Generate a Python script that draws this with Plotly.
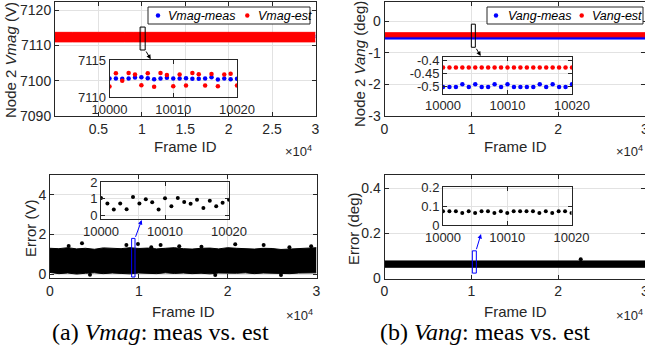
import plotly.graph_objects as go

W, H = 645, 352

# ---------------- data ----------------
band_frames = [0, 1000, 2000, 3000, 4000, 5000, 6000, 7000, 8000, 9000, 10000,
               11000, 12000, 13000, 14000, 15000, 16000, 17000, 18000, 19000, 20000,
               21000, 22000, 23000, 24000, 25000, 26000, 27000, 28000, 29000, 30000]

# Vmag (top-left) dense bands
vmag_est_hi = [7113.7, 7113.6, 7113.7, 7113.7, 7113.6, 7113.7, 7113.7, 7113.6, 7113.7, 7113.7, 7113.7,
               7113.6, 7113.7, 7113.7, 7113.6, 7113.7, 7113.7, 7113.7, 7113.6, 7113.7, 7113.7,
               7113.6, 7113.7, 7113.7, 7113.6, 7113.7, 7113.7, 7113.7, 7113.6, 7113.7, 7113.7]
vmag_est_lo = [7111.0, 7111.1, 7111.0, 7111.0, 7111.1, 7111.0, 7111.0, 7111.1, 7111.0, 7111.0, 7111.0,
               7111.1, 7111.0, 7111.0, 7111.1, 7111.0, 7111.0, 7111.0, 7111.1, 7111.0, 7111.0,
               7111.1, 7111.0, 7111.0, 7111.1, 7111.0, 7111.0, 7111.0, 7111.1, 7111.0, 7111.0]
vmag_meas_hi = [7112.9, 7112.9, 7112.9, 7112.9, 7112.9, 7112.9, 7112.9, 7112.9, 7112.9, 7112.9, 7112.9,
                7112.9, 7112.9, 7112.9, 7112.9, 7112.9, 7112.9, 7112.9, 7112.9, 7112.9, 7112.9,
                7112.9, 7112.9, 7112.9, 7112.9, 7112.9, 7112.9, 7112.9, 7112.9, 7112.9, 7112.9]
vmag_meas_lo = [7112.2, 7112.2, 7112.2, 7112.2, 7112.2, 7112.2, 7112.2, 7112.2, 7112.2, 7112.2, 7112.2,
                7112.2, 7112.2, 7112.2, 7112.2, 7112.2, 7112.2, 7112.2, 7112.2, 7112.2, 7112.2,
                7112.2, 7112.2, 7112.2, 7112.2, 7112.2, 7112.2, 7112.2, 7112.2, 7112.2, 7112.2]

# Vang (top-right) dense bands
vang_est_hi = [-0.37, -0.37, -0.37, -0.37, -0.37, -0.37, -0.37, -0.37, -0.37, -0.37, -0.37,
               -0.37, -0.37, -0.37, -0.37, -0.37, -0.37, -0.37, -0.37, -0.37, -0.37,
               -0.37, -0.37, -0.37, -0.37, -0.37, -0.37, -0.37, -0.37, -0.37, -0.37]
vang_est_lo = [-0.50, -0.50, -0.50, -0.50, -0.50, -0.50, -0.50, -0.50, -0.50, -0.50, -0.50,
               -0.50, -0.50, -0.50, -0.50, -0.50, -0.50, -0.50, -0.50, -0.50, -0.50,
               -0.50, -0.50, -0.50, -0.50, -0.50, -0.50, -0.50, -0.50, -0.50, -0.50]
vang_meas_hi = [-0.46, -0.46, -0.46, -0.46, -0.46, -0.46, -0.46, -0.46, -0.46, -0.46, -0.46,
                -0.46, -0.46, -0.46, -0.46, -0.46, -0.46, -0.46, -0.46, -0.46, -0.46,
                -0.46, -0.46, -0.46, -0.46, -0.46, -0.46, -0.46, -0.46, -0.46, -0.46]
vang_meas_lo = [-0.57, -0.57, -0.57, -0.57, -0.57, -0.57, -0.57, -0.57, -0.57, -0.57, -0.57,
                -0.57, -0.57, -0.57, -0.57, -0.57, -0.57, -0.57, -0.57, -0.57, -0.57,
                -0.57, -0.57, -0.57, -0.57, -0.57, -0.57, -0.57, -0.57, -0.57, -0.57]

# Error Vmag (bottom-left) dense band envelope + outliers
err_v_hi = [1.30, 1.28, 1.33, 1.27, 1.30, 1.25, 1.32, 1.30, 1.28, 1.33, 1.29,
            1.31, 1.27, 1.30, 1.33, 1.28, 1.26, 1.30, 1.31, 1.27, 1.33,
            1.30, 1.28, 1.26, 1.30, 1.29, 1.24, 1.27, 1.30, 1.32, 1.33]
err_v_lo = [0.08, 0.02, 0.05, 0.00, 0.04, 0.06, 0.02, 0.05, 0.03, 0.01, 0.05,
            0.04, 0.02, 0.06, 0.03, 0.05, 0.02, 0.04, 0.01, 0.05, 0.03,
            0.04, 0.06, 0.02, 0.05, 0.03, 0.04, 0.02, 0.05, 0.04, 0.06]
err_v_out_frames = [2100, 3600, 8600, 9900, 11400, 12450, 14550, 17050, 20850, 24050, 26950, 29400,
                    4500, 18600, 26000]
err_v_out_vals = [1.42, 1.55, 1.47, 1.52, 1.35, 1.47, 1.40, 1.38, 1.50, 1.47, 1.35, 1.40,
                  -0.03, -0.05, -0.05]

# Error Vang (bottom-right) dense band + outlier
err_deg_hi = [0.078, 0.078, 0.078, 0.078, 0.078, 0.078, 0.078, 0.078, 0.078, 0.078, 0.078,
              0.078, 0.078, 0.078, 0.078, 0.078, 0.078, 0.078, 0.078, 0.078, 0.078,
              0.078, 0.078, 0.078, 0.078, 0.078, 0.078, 0.078, 0.078, 0.078, 0.078]
err_deg_lo = [0.050, 0.050, 0.050, 0.050, 0.050, 0.050, 0.050, 0.050, 0.050, 0.050, 0.050,
              0.050, 0.050, 0.050, 0.050, 0.050, 0.050, 0.050, 0.050, 0.050, 0.050,
              0.050, 0.050, 0.050, 0.050, 0.050, 0.050, 0.050, 0.050, 0.050, 0.050]
err_deg_out_frames = [22600]
err_deg_out_vals = [0.086]

# Zoomed insets: frames 10000..10020
zoom_frames = [10000, 10001, 10002, 10003, 10004, 10005, 10006, 10007, 10008, 10009, 10010,
               10011, 10012, 10013, 10014, 10015, 10016, 10017, 10018, 10019, 10020]
vmag_meas_zoom = [7112.50, 7112.50, 7112.48, 7112.50, 7112.62, 7112.68, 7112.52, 7112.40, 7112.50, 7112.60, 7112.50,
                  7112.50, 7112.55, 7112.45, 7112.48, 7112.50, 7112.66, 7112.36, 7112.50, 7112.40, 7112.45]
vmag_est_zoom = [7111.42, 7113.22, 7112.20, 7113.26, 7113.05, 7111.58, 7113.22, 7111.39, 7113.24, 7112.96, 7111.46,
                 7113.05, 7111.55, 7113.24, 7113.08, 7111.55, 7113.12, 7111.44, 7113.05, 7113.14, 7111.55]
vang_meas_zoom = [-0.500, -0.500, -0.500, -0.490, -0.500, -0.490, -0.500, -0.500, -0.490, -0.500, -0.490,
                  -0.500, -0.500, -0.500, -0.500, -0.490, -0.500, -0.490, -0.500, -0.500, -0.490]
vang_est_zoom = [-0.427, -0.427, -0.427, -0.427, -0.427, -0.427, -0.427, -0.427, -0.427, -0.427, -0.427,
                 -0.427, -0.427, -0.427, -0.427, -0.427, -0.427, -0.427, -0.427, -0.427, -0.427]
err_v_zoom = [1.05, 0.72, 0.37, 0.72, 0.38, 1.11, 0.72, 0.98, 0.80, 0.37, 1.04,
              0.56, 1.05, 0.81, 0.70, 0.95, 0.46, 0.88, 0.56, 0.76, 0.95]
err_deg_zoom = [0.073, 0.073, 0.073, 0.063, 0.073, 0.063, 0.073, 0.073, 0.063, 0.073, 0.063,
                0.073, 0.073, 0.073, 0.073, 0.063, 0.073, 0.063, 0.073, 0.073, 0.063]

# legend labels
vmag_names = ["Vmag-meas", "Vmag-est"]
vang_names = ["Vang-meas", "Vang-est"]

# tick labels
tl_xticks = [5000, 10000, 15000, 20000, 25000, 30000]
tl_xticktext = ["0.5", "1", "1.5", "2", "2.5", "3"]
main_xticks = [0, 10000, 20000, 30000]
main_xticktext = ["0", "1", "2", "3"]
zoom_xticks = [10000, 10010, 10020]
zoom_xticktext = ["10000", "10010", "10020"]

# ---------------- styling ----------------
SANS = "Liberation Sans, Arial, Helvetica, sans-serif"
SERIF = "Liberation Serif, Times New Roman, serif"
TXT = "#262626"
GRID = "#e2e2e2"
BLUE = "#0000ff"
RED = "#ff0000"


def dx(a, b):
    return [a / W, min(b / W, 1.0)]


def dy(top, bottom):
    return [1 - bottom / H, 1 - top / H]


fig = go.Figure()


def band(xa, ya, lo, hi, color):
    fig.add_trace(go.Scatter(x=band_frames, y=hi, mode="lines", line=dict(width=1, color=color),
                             xaxis=xa, yaxis=ya, showlegend=False, hoverinfo="skip"))
    fig.add_trace(go.Scatter(x=band_frames, y=lo, mode="lines", line=dict(width=1, color=color),
                             fill="tonexty", fillcolor=color, xaxis=xa, yaxis=ya,
                             showlegend=False, hoverinfo="skip"))


# main panels
band("x", "y", vmag_meas_lo, vmag_meas_hi, BLUE)
band("x", "y", vmag_est_lo, vmag_est_hi, RED)
band("x2", "y2", vang_meas_lo, vang_meas_hi, BLUE)
band("x2", "y2", vang_est_lo, vang_est_hi, RED)
band("x3", "y3", err_v_lo, err_v_hi, "black")
fig.add_trace(go.Scatter(x=err_v_out_frames, y=err_v_out_vals, mode="markers",
                         marker=dict(size=4, color="black"), xaxis="x3", yaxis="y3", showlegend=False))
band("x4", "y4", err_deg_lo, err_deg_hi, "black")
fig.add_trace(go.Scatter(x=err_deg_out_frames, y=err_deg_out_vals, mode="markers",
                         marker=dict(size=4, color="black"), xaxis="x4", yaxis="y4", showlegend=False))

# insets
MS = 4.5
fig.add_trace(go.Scatter(x=zoom_frames, y=vmag_meas_zoom, mode="markers", name=vmag_names[0],
                         marker=dict(size=MS, color=BLUE), xaxis="x5", yaxis="y5", showlegend=False))
fig.add_trace(go.Scatter(x=zoom_frames, y=vmag_est_zoom, mode="markers", name=vmag_names[1],
                         marker=dict(size=MS, color=RED), xaxis="x5", yaxis="y5", showlegend=False))
fig.add_trace(go.Scatter(x=zoom_frames, y=vang_meas_zoom, mode="markers", name=vang_names[0],
                         marker=dict(size=MS, color=BLUE), xaxis="x6", yaxis="y6", showlegend=False))
fig.add_trace(go.Scatter(x=zoom_frames, y=vang_est_zoom, mode="markers", name=vang_names[1],
                         marker=dict(size=MS, color=RED), xaxis="x6", yaxis="y6", showlegend=False))
fig.add_trace(go.Scatter(x=zoom_frames, y=err_v_zoom, mode="markers",
                         marker=dict(size=4, color="black"), xaxis="x7", yaxis="y7", showlegend=False))
fig.add_trace(go.Scatter(x=zoom_frames, y=err_deg_zoom, mode="markers",
                         marker=dict(size=4, color="black"), xaxis="x8", yaxis="y8", showlegend=False))


def axis(domain, rng, tickvals, ticktext, anchor, size):
    return dict(domain=domain, range=rng, tickmode="array", tickvals=tickvals, ticktext=ticktext,
                anchor=anchor, showline=True, linecolor=TXT, linewidth=1, mirror="ticks",
                ticks="inside", ticklen=4, tickcolor=TXT, showgrid=True, gridcolor=GRID,
                gridwidth=1, zeroline=False, ticklabeloverflow="allow", automargin=False,
                tickfont=dict(family=SANS, size=size, color=TXT))


layout = dict(
    width=W, height=H, margin=dict(l=0, r=0, t=0, b=0, autoexpand=False),
    paper_bgcolor="white", plot_bgcolor="rgba(0,0,0,0)", showlegend=False,
    font=dict(family=SANS, color=TXT),
    # top-left
    xaxis=axis(dx(55, 315.5), [0, 30000], tl_xticks, tl_xticktext, "y", 14),
    yaxis=axis(dy(2, 116), [7090, 7122.3], [7090, 7100, 7110, 7120], ["7090", "7100", "7110", "7120"], "x", 14),
    # top-right
    xaxis2=axis(dx(384.5, 645), [0, 30000], main_xticks, main_xticktext, "y2", 14),
    yaxis2=axis(dy(2, 116), [-3, 0.6], [-3, -2, -1, 0], ["-3", "-2", "-1", "0"], "x2", 14),
    # bottom-left
    xaxis3=axis(dx(50, 316.5), [0, 30000], main_xticks, main_xticktext, "y3", 14),
    yaxis3=axis(dy(175, 278), [-0.2, 5], [0, 2, 4], ["0", "2", "4"], "x3", 14),
    # bottom-right
    xaxis4=axis(dx(384.5, 645), [0, 30000], main_xticks, main_xticktext, "y4", 14),
    yaxis4=axis(dy(175, 278.5), [0, 0.46], [0, 0.2, 0.4], ["0", "0.2", "0.4"], "x4", 14),
    # insets
    xaxis5=axis(dx(109.5, 237), [10000, 10020], zoom_xticks, zoom_xticktext, "y5", 13),
    yaxis5=axis(dy(60, 97), [7110, 7115], [7110, 7115], ["7110", "7115"], "x5", 13),
    xaxis6=axis(dx(443, 572), [10000, 10020], zoom_xticks, zoom_xticktext, "y6", 13),
    yaxis6=axis(dy(56.5, 93.5), [-0.525, -0.385], [-0.5, -0.45, -0.4], ["-0.5", "-0.45", "-0.4"], "x6", 13),
    xaxis7=axis(dx(101, 229), [10000, 10020], zoom_xticks, zoom_xticktext, "y7", 13),
    yaxis7=axis(dy(181.5, 219), [-0.2, 2.03], [0, 1, 2], ["0", "1", "2"], "x7", 13),
    xaxis8=axis(dx(443, 571.5), [10000, 10020], zoom_xticks, zoom_xticktext, "y8", 13),
    yaxis8=axis(dy(187, 225), [0, 0.2], [0, 0.1, 0.2], ["0", "0.1", "0.2"], "x8", 13),
)
fig.update_layout(**layout)

# zoom-region rectangles
fig.add_shape(type="rect", xref="x", yref="y", x0=9800, x1=10385, y0=7108.7, y1=7115.2,
              line=dict(color="black", width=1))
fig.add_shape(type="rect", xref="x2", yref="y2", x0=10000, x1=10460, y0=-0.83, y1=-0.10,
              line=dict(color="black", width=1))
fig.add_shape(type="rect", xref="x3", yref="y3", x0=9190, x1=9570, y0=-0.15, y1=1.8,
              line=dict(color=BLUE, width=1))
fig.add_shape(type="rect", xref="x4", yref="y4", x0=10115, x1=10577, y0=0.024, y1=0.123,
              line=dict(color=BLUE, width=1))


def ann(x, y, text, size=15, angle=0, family=SANS, xanchor="center", color=TXT):
    fig.add_annotation(x=x / W, y=1 - y / H, xref="paper", yref="paper", text=text, showarrow=False,
                       textangle=angle, xanchor=xanchor, yanchor="middle",
                       font=dict(family=family, size=size, color=color))


def arrow(hx, hy, tx, ty, color):
    fig.add_annotation(x=hx / W, y=1 - hy / H, xref="paper", yref="paper", text="",
                       showarrow=True, ax=tx - hx, ay=ty - hy, arrowhead=2, arrowsize=0.9,
                       arrowwidth=1, arrowcolor=color)


def legend_box(x0, x1, y0, y1, items):
    # items: (marker_x, text_x, color, label)
    fig.add_shape(type="rect", xref="paper", yref="paper", x0=x0 / W, x1=x1 / W,
                  y0=1 - y1 / H, y1=1 - y0 / H, line=dict(color=TXT, width=1), fillcolor="white",
                  layer="above")
    yc = (y0 + y1) / 2
    for mx, tx, color, label in items:
        r = 2.2
        fig.add_shape(type="circle", xref="paper", yref="paper", x0=(mx - r) / W, x1=(mx + r) / W,
                      y0=1 - (yc + r) / H, y1=1 - (yc - r) / H, line=dict(width=0),
                      fillcolor=color, layer="above")
        fig.add_annotation(x=tx / W, y=1 - yc / H, xref="paper", yref="paper",
                           text="<i>" + label + "</i>", showarrow=False, xanchor="left",
                           yanchor="middle", font=dict(family=SANS, size=12.5, color="black"))


legend_box(148, 310, 7, 24, [(158, 166, BLUE, vmag_names[0]), (247.3, 255.5, RED, vmag_names[1])])
legend_box(487, 643, 7, 24, [(496, 505.5, BLUE, vang_names[0]), (581.7, 589.5, RED, vang_names[1])])

arrow(150.7, 59.3, 145.3, 50, "black")
arrow(480.7, 56, 475.5, 47.3, "black")
arrow(141.7, 220, 135, 238.3, BLUE)
arrow(481, 234, 476, 250.7, BLUE)

# axis titles
ann(11, 60, "Node 2 <i>Vmag</i> (V)", 15, -90)
ann(359, 64, "Node 2 <i>Vang</i> (deg)", 15, -90)
ann(30, 228, "Error (V)", 15, -90)
ann(353, 228, "Error (deg)", 15, -90)
ann(185, 146, "Frame ID", 15)
ann(515, 146, "Frame ID", 15)
ann(183, 311.5, "Frame ID", 15)
ann(515, 311.5, "Frame ID", 15)
ann(283, 151, "×10<sup>4</sup>", 13, xanchor="left")
ann(614, 151, "×10<sup>4</sup>", 13, xanchor="left")
ann(284, 315, "×10<sup>4</sup>", 13, xanchor="left")
ann(614, 315, "×10<sup>4</sup>", 13, xanchor="left")

# captions
ann(160, 332, "(a) <i>Vmag</i>: meas vs. est", 24, family=SERIF, color="black")
ann(485, 332, "(b) <i>Vang</i>: meas vs. est", 24, family=SERIF, color="black")

fig.write_html("out.html", config={"displayModeBar": False},
               post_script="document.body.style.margin='0';document.body.style.overflow='hidden';")
